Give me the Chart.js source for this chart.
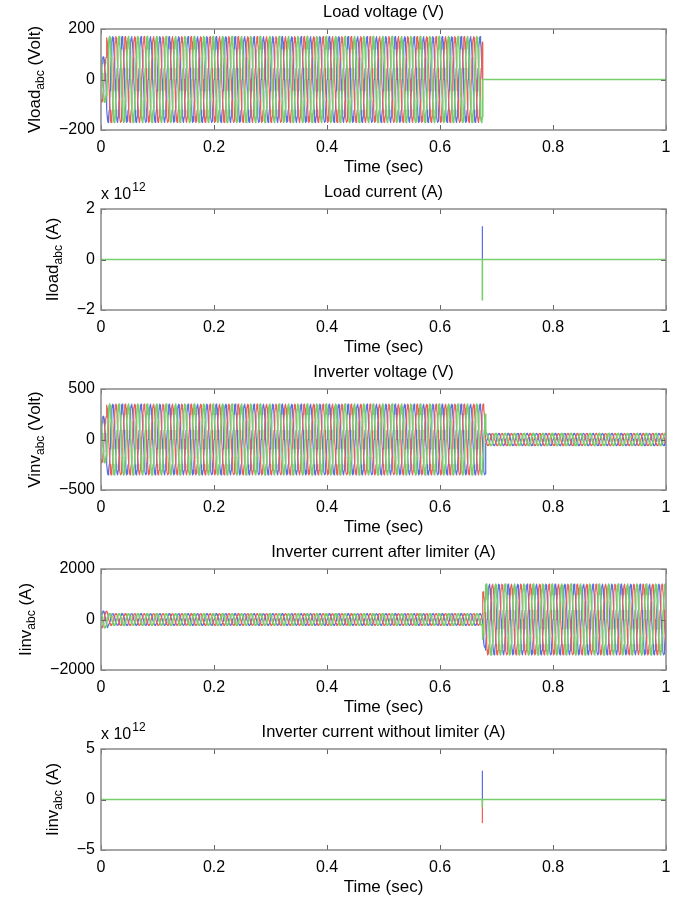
<!DOCTYPE html>
<html>
<head>
<meta charset="utf-8">
<script src="https://cdn.jsdelivr.net/npm/chart.js@4.4.1/dist/chart.umd.min.js"></script>
<style>
  html, body { margin: 0; padding: 0; background: #fff; }
  #wrap { position: relative; width: 684px; height: 898px; overflow: hidden; }
  .cell { position: absolute; left: 0; width: 684px; height: 180px; }
</style>
</head>
<body>
<div id="wrap">
  <div class="cell" style="top:0px"><canvas id="vload" width="684" height="180"></canvas></div>
  <div class="cell" style="top:180px"><canvas id="iload" width="684" height="180"></canvas></div>
  <div class="cell" style="top:360px"><canvas id="vinv" width="684" height="180"></canvas></div>
  <div class="cell" style="top:540px"><canvas id="iinvlim" width="684" height="180"></canvas></div>
  <div class="cell" style="top:720px"><canvas id="iinv" width="684" height="180"></canvas></div>
</div>
<script>
// Time axis
var timeTicks = [0, 0.2, 0.4, 0.6, 0.8, 1];
var faultTime = 0.675;
var cycleHz = 60;

// One period of a phase trace, 24 samples
var cycleShape = [0, 0.26, 0.5, 0.71, 0.87, 0.97, 1, 0.97, 0.87, 0.71, 0.5, 0.26,
                  0, -0.26, -0.5, -0.71, -0.87, -0.97, -1, -0.97, -0.87, -0.71, -0.5, -0.26];
var phaseShift = [0, 8, 16]; // a, b, c  (120 deg apart)
var phaseColors = ["rgb(90, 110, 225)", "rgb(120, 205, 110)", "rgb(235, 95, 85)"];
var phaseWidth = [1.2, 1.6, 1.2];
var phaseOrder = [2, 0, 1]; // green drawn on top

// Peak envelope of each trace: [from (s), to (s), peak]
var vloadPeaks = [[0, 0.01, 90], [0.01, 0.675, 170], [0.675, 1, 0]];
var vinvPeaks = [[0, 0.01, 230], [0.01, 0.68, 350], [0.68, 1, 60]];
var iinvLimPeaks = [[0, 0.012, 330], [0.012, 0.675, 230], [0.675, 0.68, 1100], [0.68, 1, 1400]];

// Spikes at the fault instant, phases a, b, c  (x 10^12)
var iloadSpike = [1.3, -1.6, 0];
var iinvSpike = [2.8, -0.7, -2.3];

// Y ticks
var vloadTicks = [-200, 0, 200];
var iloadTicks = [-2, 0, 2];
var vinvTicks = [-500, 0, 500];
var iinvLimTicks = [-2000, 0, 2000];
var iinvTicks = [-5, 0, 5];

var FONT = "'Liberation Sans', Arial, Helvetica, sans-serif";

function buildPhase(peaks, shift) {
    var n = cycleShape.length;
    var steps = cycleHz * n;
    var pts = [];
    for (var i = 0; i <= steps; i++) {
        var t = i / steps;
        var amp = 0;
        for (var s = 0; s < peaks.length; s++) {
            if (t >= peaks[s][0] && t <= peaks[s][1]) { amp = peaks[s][2]; break; }
        }
        pts.push({ x: t, y: amp * cycleShape[(i + shift) % n] });
    }
    return pts;
}

function buildSpike(peak) {
    return [{ x: 0, y: 0 }, { x: faultTime, y: 0 }, { x: faultTime, y: peak }, { x: faultTime, y: 0 }, { x: 1, y: 0 }];
}

function fmt(v) {
    var r = Math.round(v * 10) / 10;
    return r < 0 ? "\u2212" + Math.abs(r) : String(r);
}

// box, inward ticks, title, y label with subscript, exponent
var matlabAxes = {
    id: "matlabAxes",
    afterDatasetsDraw: function (chart, args, opts) {
        var ctx = chart.ctx, a = chart.chartArea;
        var xs = chart.scales.x, ys = chart.scales.y;
        ctx.save();
        ctx.strokeStyle = "#666";
        ctx.lineWidth = 1;
        ctx.beginPath();
        xs.ticks.forEach(function (t) {
            var px = Math.round(xs.getPixelForValue(t.value)) + 0.5;
            ctx.moveTo(px, a.bottom); ctx.lineTo(px, a.bottom - 5);
            ctx.moveTo(px, a.top); ctx.lineTo(px, a.top + 5);
        });
        ys.ticks.forEach(function (t) {
            var py = Math.round(ys.getPixelForValue(t.value)) + 0.5;
            ctx.moveTo(a.left, py); ctx.lineTo(a.left + 5, py);
            ctx.moveTo(a.right, py); ctx.lineTo(a.right - 5, py);
        });
        ctx.stroke();
        ctx.strokeStyle = "#8a8a8a";
        ctx.lineWidth = 1.5;
        ctx.strokeRect(a.left, a.top, a.right - a.left, a.bottom - a.top);

        // title
        ctx.fillStyle = "#000";
        ctx.font = "16.5px " + FONT;
        ctx.textAlign = "center";
        ctx.textBaseline = "middle";
        ctx.fillText(opts.title, (a.left + a.right) / 2, 12);

        // y label
        ctx.font = "16px " + FONT;
        var maxW = 0;
        ys.ticks.forEach(function (t) { maxW = Math.max(maxW, ctx.measureText(t.label).width); });
        var lx = a.left - 6 - maxW - 25;
        ctx.font = "17px " + FONT;
        var w1 = ctx.measureText(opts.yMain).width;
        var w3 = ctx.measureText(opts.yRest).width;
        ctx.font = "12px " + FONT;
        var w2 = ctx.measureText("abc").width;
        ctx.translate(lx, (a.top + a.bottom) / 2);
        ctx.rotate(-Math.PI / 2);
        ctx.textAlign = "left";
        ctx.textBaseline = "alphabetic";
        var x0 = -(w1 + w2 + w3) / 2;
        ctx.font = "17px " + FONT;
        ctx.fillText(opts.yMain, x0, 6);
        ctx.font = "12px " + FONT;
        ctx.fillText("abc", x0 + w1, 10);
        ctx.font = "17px " + FONT;
        ctx.fillText(opts.yRest, x0 + w1 + w2, 6);
        ctx.setTransform(1, 0, 0, 1, 0, 0);

        // exponent
        if (opts.exponent) {
            ctx.textAlign = "left";
            ctx.textBaseline = "middle";
            ctx.font = "16px " + FONT;
            ctx.fillText("x 10", a.left, 15);
            var we = ctx.measureText("x 10").width;
            ctx.font = "12px " + FONT;
            ctx.fillText(opts.exponent, a.left + we + 1, 8);
        }
        ctx.restore();
    }
};

function makePlot(id, series, yTicks, labels) {
    return new Chart(document.getElementById(id), {
        type: "line",
        data: {
            datasets: series.map(function (pts, k) {
                return {
                    label: "abc"[k],
                    data: pts,
                    borderColor: phaseColors[k],
                    borderWidth: phaseWidth[k],
                    borderJoinStyle: "round",
                    pointRadius: 0,
                    tension: 0,
                    order: phaseOrder[k]
                };
            })
        },
        options: {
            responsive: false,
            animation: false,
            devicePixelRatio: 1,
            layout: { padding: { top: 29, right: 18, left: 0, bottom: 0 } },
            plugins: {
                legend: { display: false },
                tooltip: { enabled: false },
                matlabAxes: labels
            },
            scales: {
                x: {
                    type: "linear",
                    min: timeTicks[0],
                    max: timeTicks[timeTicks.length - 1],
                    afterBuildTicks: function (s) { s.ticks = timeTicks.map(function (v) { return { value: v }; }); },
                    afterFit: function (s) { s.height = 50; },
                    grid: { display: false, drawTicks: false },
                    border: { display: false },
                    ticks: { color: "#000", font: { family: FONT, size: 16 }, padding: 8, maxRotation: 0, autoSkip: false, callback: fmt },
                    title: { display: true, text: "Time (sec)", color: "#000", font: { family: FONT, size: 17 }, padding: { top: 0, bottom: 2 } }
                },
                y: {
                    type: "linear",
                    min: yTicks[0],
                    max: yTicks[yTicks.length - 1],
                    afterBuildTicks: function (s) { s.ticks = yTicks.map(function (v) { return { value: v }; }); },
                    afterFit: function (s) { s.width = 101; },
                    grid: { display: false, drawTicks: false },
                    border: { display: false },
                    ticks: { color: "#000", font: { family: FONT, size: 16 }, padding: 6, callback: fmt }
                }
            }
        },
        plugins: [matlabAxes]
    });
}

// Load voltage
makePlot("vload", phaseShift.map(function (sh) { return buildPhase(vloadPeaks, sh); }), vloadTicks,
    { title: "Load voltage (V)", yMain: "Vload", yRest: " (Volt)" });

// Load current
makePlot("iload", iloadSpike.map(buildSpike), iloadTicks,
    { title: "Load current (A)", yMain: "Iload", yRest: " (A)", exponent: "12" });

// Inverter voltage
makePlot("vinv", phaseShift.map(function (sh) { return buildPhase(vinvPeaks, sh); }), vinvTicks,
    { title: "Inverter voltage (V)", yMain: "Vinv", yRest: " (Volt)" });

// Inverter current after limiter
makePlot("iinvlim", phaseShift.map(function (sh) { return buildPhase(iinvLimPeaks, sh); }), iinvLimTicks,
    { title: "Inverter current after limiter (A)", yMain: "Iinv", yRest: " (A)" });

// Inverter current without limiter
makePlot("iinv", iinvSpike.map(buildSpike), iinvTicks,
    { title: "Inverter current without limiter (A)", yMain: "Iinv", yRest: " (A)", exponent: "12" });
</script>
</body>
</html>
